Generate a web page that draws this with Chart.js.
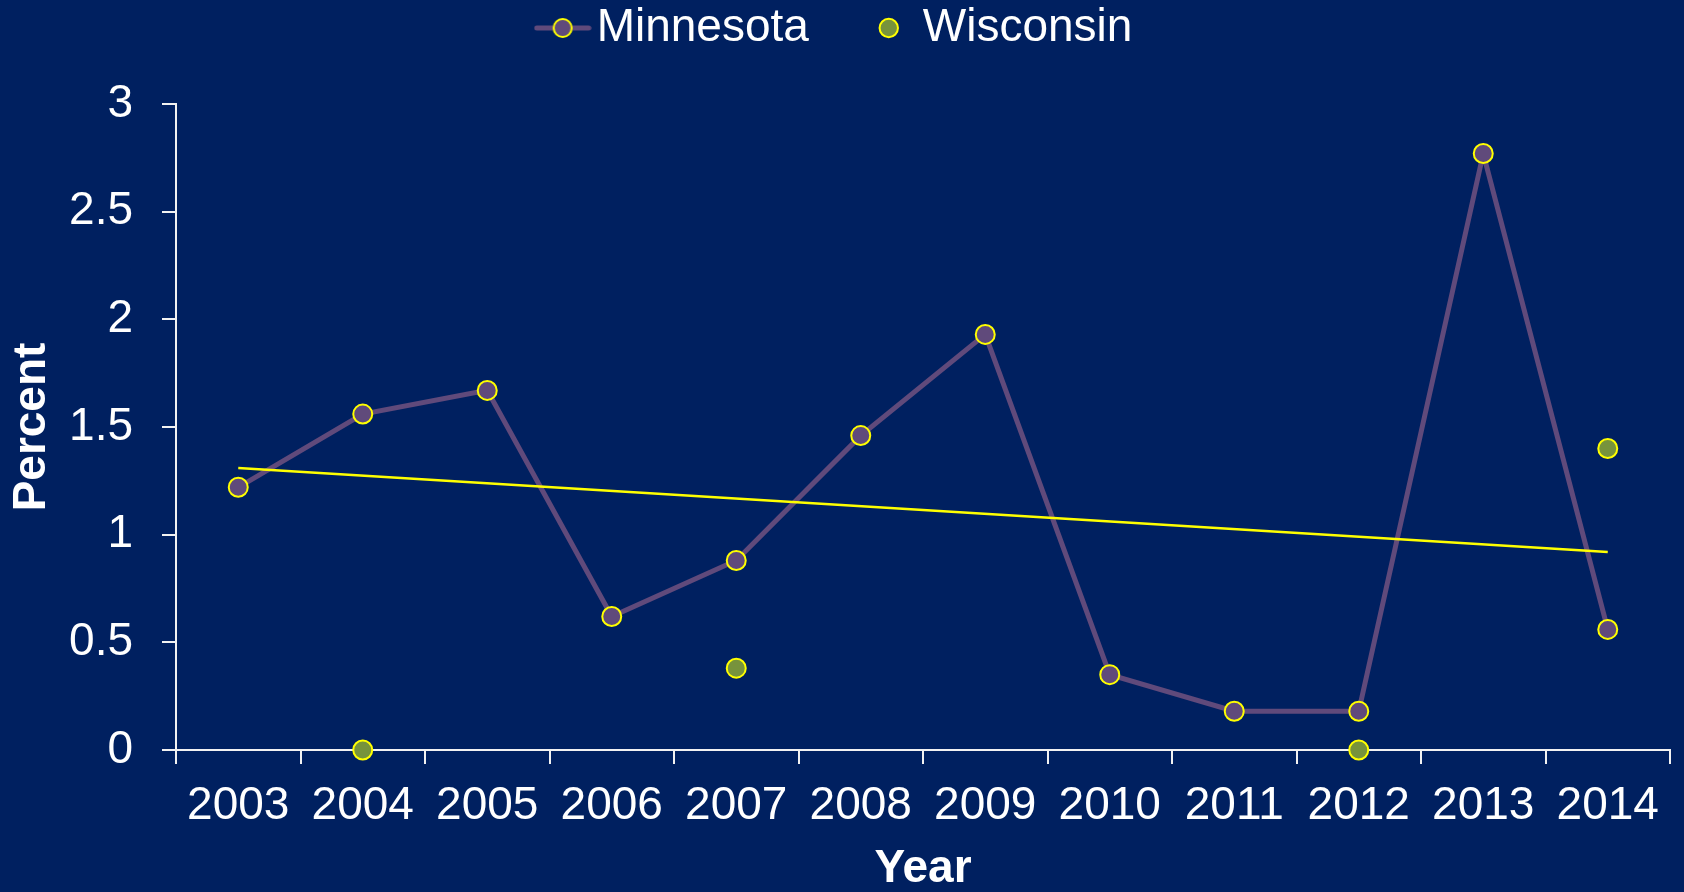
<!DOCTYPE html>
<html>
<head>
<meta charset="utf-8">
<title>Minnesota vs Wisconsin</title>
<script src="https://cdn.jsdelivr.net/npm/chart.js@4/dist/chart.umd.min.js"></script>
<style>
    html, body { margin: 0; padding: 0; background: #002060; overflow: hidden; }
    #wrap { width: 1684px; height: 892px; position: relative; }
</style>
</head>
<body>
<div id="wrap"><canvas id="trendChart"></canvas></div>
<script>
const years = ['2003', '2004', '2005', '2006', '2007', '2008', '2009', '2010', '2011', '2012', '2013', '2014'];
const minnesota = [1.22, 1.56, 1.67, 0.62, 0.88, 1.46, 1.93, 0.35, 0.18, 0.18, 2.77, 0.56];
const wisconsin = [null, 0, null, null, 0.38, null, null, null, null, 0, null, 1.40];
const trendLine = [1.31, null, null, null, null, null, null, null, null, null, null, 0.92];
const yTicks = { min: 0, max: 3, step: 0.5 };

const PURPLE = '#604A7B';
const OLIVE = '#77933C';
const YELLOW = '#FFFF00';
const AXIS = '#F2F2F2';
const FONT = "'Liberation Sans', Arial, sans-serif";

// legend marker for Minnesota: line with a circle on it
function lineMarker() {
    const c = document.createElement('canvas');
    c.width = 58;
    c.height = 22;
    const g = c.getContext('2d');
    g.strokeStyle = PURPLE;
    g.lineWidth = 5;
    g.lineCap = 'round';
    g.beginPath();
    g.moveTo(3, 11);
    g.lineTo(55, 11);
    g.stroke();
    g.beginPath();
    g.arc(29, 11, 9, 0, Math.PI * 2);
    g.fillStyle = PURPLE;
    g.fill();
    g.lineWidth = 2;
    g.strokeStyle = YELLOW;
    g.stroke();
    return c;
}
const minnMarker = lineMarker();

const legendSpace = {
    id: 'legendSpace',
    beforeInit(chart) {
        const fit = chart.legend.fit;
        chart.legend.fit = function () {
            fit.bind(chart.legend)();
            this.height += 43;
        };
    }
};

const ctx = document.getElementById('trendChart').getContext('2d');
new Chart(ctx, {
    type: 'line',
    data: {
        labels: years,
        datasets: [{
            label: 'Minnesota',
            data: minnesota,
            borderColor: PURPLE,
            borderWidth: 5,
            pointRadius: 9.5,
            pointBorderWidth: 2,
            pointBorderColor: YELLOW,
            pointBackgroundColor: PURPLE,
            tension: 0,
            clip: false,
            order: 2
        }, {
            label: 'Wisconsin',
            data: wisconsin,
            showLine: false,
            pointRadius: 9.5,
            pointBorderWidth: 2,
            pointBorderColor: YELLOW,
            pointBackgroundColor: OLIVE,
            backgroundColor: OLIVE,
            borderColor: YELLOW,
            clip: false,
            order: 0
        }, {
            label: 'trend',
            data: trendLine,
            borderColor: YELLOW,
            borderWidth: 2.5,
            pointRadius: 0,
            spanGaps: true,
            clip: false,
            order: 1
        }]
    },
    options: {
        responsive: true,
        maintainAspectRatio: false,
        animation: false,
        devicePixelRatio: 1,
        layout: { padding: 0 },
        plugins: {
            tooltip: { enabled: false },
            legend: {
                position: 'top',
                labels: {
                    color: '#FFFFFF',
                    font: { family: FONT, size: 46 },
                    usePointStyle: true,
                    boxWidth: 22,
                    boxHeight: 13,
                    padding: 5,
                    filter: item => item.text !== 'trend',
                    generateLabels(chart) {
                        const items = Chart.defaults.plugins.legend.labels.generateLabels(chart);
                        items.sort((a, b) => a.datasetIndex - b.datasetIndex);
                        items.forEach(it => {
                            if (it.datasetIndex === 0) {
                                it.pointStyle = minnMarker;
                                it.text = 'Minnesota     ';
                            }
                        });
                        return items;
                    }
                }
            }
        },
        scales: {
            x: {
                type: 'category',
                offset: true,
                afterFit(scale) {
                    scale.height = 142;
                    scale.paddingRight = 14;
                },
                grid: {
                    offset: true,
                    drawOnChartArea: false,
                    drawTicks: true,
                    tickLength: 14,
                    color: AXIS,
                    lineWidth: 2
                },
                border: { display: true, color: AXIS, width: 2 },
                ticks: {
                    color: '#FFFFFF',
                    font: { family: FONT, size: 46 },
                    padding: 15,
                    autoSkip: false,
                    maxRotation: 0
                },
                title: {
                    display: true,
                    text: 'Year',
                    color: '#FFFFFF',
                    font: { family: FONT, size: 46, weight: 'bold', lineHeight: 1 },
                    padding: { top: 1, bottom: 0 }
                }
            },
            y: {
                min: yTicks.min,
                max: yTicks.max,
                afterFit(scale) {
                    scale.width = 176;
                },
                grid: {
                    drawOnChartArea: false,
                    drawTicks: true,
                    tickLength: 14,
                    color: AXIS,
                    lineWidth: 2
                },
                border: { display: true, color: AXIS, width: 2 },
                ticks: {
                    stepSize: yTicks.step,
                    color: '#FFFFFF',
                    font: { family: FONT, size: 46 },
                    padding: 29,
                    callback: value => String(value)
                },
                title: {
                    display: true,
                    text: 'Percent',
                    color: '#FFFFFF',
                    font: { family: FONT, size: 46, weight: 'bold' },
                    padding: { top: 5, bottom: 0 }
                }
            }
        }
    },
    plugins: [legendSpace]
});
</script>
</body>
</html>
